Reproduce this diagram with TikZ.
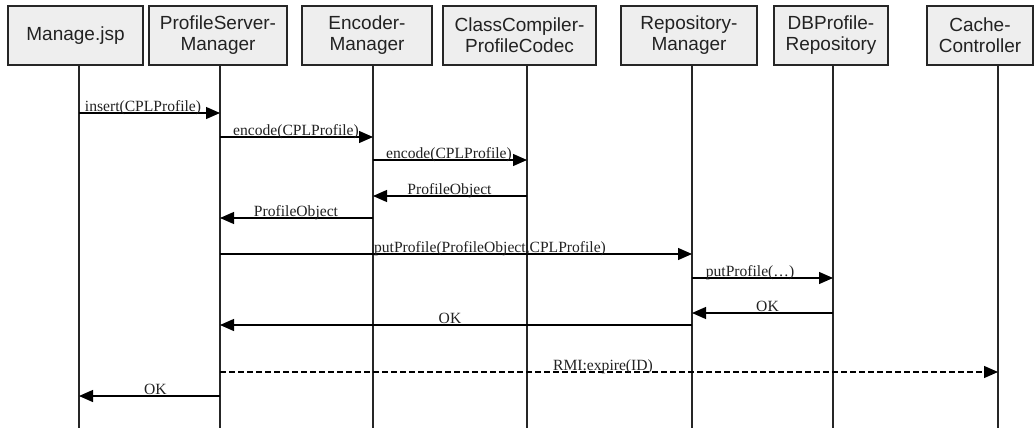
\documentclass[tikz,border=0pt]{standalone}
\usepackage{fontspec}
\setmainfont{Liberation Serif}
\newfontfamily\boxfont{Liberation Sans}
\usetikzlibrary{arrows.meta}
\definecolor{boxfill}{HTML}{EEEEEE}
\definecolor{txt}{HTML}{222222}
\tikzset{
  obj/.style={draw=black!85, line width=1.2pt, fill=boxfill, inner sep=0pt,
    minimum height=59pt, align=center, text=txt,
    font=\boxfont\fontsize{19}{21}\selectfont},
  life/.style={line width=1.4pt, black!85},
  msg/.style={line width=1.2pt, -{Triangle[length=14pt,width=12pt]}},
  ret/.style={msg, dash pattern=on 6pt off 3pt},
  lbl/.style={anchor=base, inner sep=0pt, text=txt, font=\fontsize{15.6}{17}\selectfont}
}
\begin{document}
\begin{tikzpicture}[x=1pt,y=-1pt]
\useasboundingbox (0,0) rectangle (1035,428);
% object boxes
\node[obj, minimum width=135pt] (MJ) at (75.5,35.5) {Manage.jsp};
\node[obj, minimum width=138pt] (PS) at (218,35.5) {ProfileServer-\\Manager};
\node[obj, minimum width=130pt] (EM) at (367,35.5) {Encoder-\\Manager};
\node[obj, minimum width=153pt] (CC) at (519.5,35.5) {ClassCompiler-\\ProfileCodec};
\node[obj, minimum width=136pt] (RM) at (689,35.5) {Repository-\\Manager};
\node[obj, minimum width=114pt] (DB) at (831,35.5) {DBProfile-\\Repository};
\node[obj, minimum width=106pt] (CH) at (980,35.5) {Cache-\\Controller};
% lifelines
\coordinate (l1) at (79,65);  \coordinate (b1) at (79,428);
\coordinate (l2) at (220,65); \coordinate (b2) at (220,428);
\coordinate (l3) at (373,65); \coordinate (b3) at (373,428);
\coordinate (l4) at (527,65); \coordinate (b4) at (527,428);
\coordinate (l5) at (692,65); \coordinate (b5) at (692,428);
\coordinate (l6) at (833,65); \coordinate (b6) at (833,428);
\coordinate (l7) at (998,65); \coordinate (b7) at (998,428);
\foreach \i in {1,...,7} \draw[life] (l\i) -- (b\i);
% messages
\draw[msg] (l1 |- 0,113) -- (l2 |- 0,113);
\node[lbl] (t1) at (143,111) {insert(CPLProfile)};
\draw[msg] (l2 |- 0,137) -- (l3 |- 0,137);
\node[lbl] (t2) at (296,135) {encode(CPLProfile)};
\draw[msg] (l3 |- 0,160) -- (l4 |- 0,160);
\node[lbl] (t3) at (449,158) {encode(CPLProfile)};
\draw[msg] (l4 |- 0,196) -- (l3 |- 0,196);
\node[lbl] (t4) at (449.5,194) {ProfileObject};
\draw[msg] (l3 |- 0,218) -- (l2 |- 0,218);
\node[lbl] (t5) at (296,216) {ProfileObject};
\draw[msg] (l2 |- 0,254) -- (l5 |- 0,254);
\node[lbl] (t6) at (490,252) {putProfile(ProfileObject,CPLProfile)};
\draw[msg] (l5 |- 0,278) -- (l6 |- 0,278);
\node[lbl] (t7) at (750,276) {putProfile(\dots)};
\draw[msg] (l6 |- 0,313) -- (l5 |- 0,313);
\node[lbl] (t8) at (767.5,311) {OK};
\draw[msg] (l5 |- 0,325) -- (l2 |- 0,325);
\node[lbl] (t9) at (450,323) {OK};
\draw[ret] (l2 |- 0,372) -- (l7 |- 0,372);
\node[lbl] (t10) at (603,370) {RMI:expire(ID)};
\draw[msg] (l2 |- 0,396) -- (l1 |- 0,396);
\node[lbl] (t11) at (155.5,394) {OK};
\end{tikzpicture}
\end{document}
